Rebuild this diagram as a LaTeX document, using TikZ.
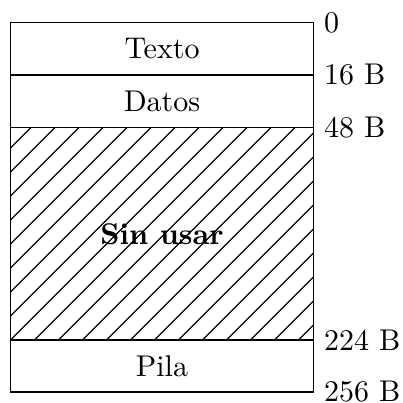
\documentclass[tikz,border=0pt]{standalone}
\begin{document}
\begin{tikzpicture}[x=0.33333pt,y=-0.33333pt,
  seg/.style={draw,line width=0.4pt},
  lbl/.style={anchor=west,inner sep=3.33pt},
  hatch/.style={line width=0.4pt}]
\useasboundingbox (0,0) rectangle (403,403);
% boundaries
\coordinate (tl) at (10.5,22.5);
\coordinate (tr) at (313.5,22.5);
\coordinate (b1l) at (10.5,75);
\coordinate (b1r) at (313.5,75);
\coordinate (b2l) at (10.5,127.5);
\coordinate (b2r) at (313.5,127.5);
\coordinate (b3l) at (10.5,340);
\coordinate (b3r) at (313.5,340);
\coordinate (bl) at (10.5,392);
\coordinate (br) at (313.5,392);
% hatching
\begin{scope}
  \clip (b2l) rectangle (b3r);
  \foreach \k in {-10,...,14} {
    \draw[hatch] (10.5+24*\k-300,340+300) -- (10.5+24*\k+300,340-300);
  }
\end{scope}
% boxes
\draw[seg] (tl) rectangle (b1r);
\draw[seg] (b1l) rectangle (b2r);
\draw[seg] (b2l) rectangle (b3r);
\draw[seg] (b3l) rectangle (br);
% texts
\node (texto) at (162,48.75) {Texto};
\node (datos) at (162,101.25) {Datos};
\node (sin) at (162,233.75) {\textbf{Sin usar}};
\node (pila) at (162,366) {Pila};
\node[lbl] (l0) at (tr) {0};
\node[lbl] (l16) at (b1r) {16 B};
\node[lbl] (l48) at (b2r) {48 B};
\node[lbl] (l224) at (b3r) {224 B};
\node[lbl] (l256) at (br) {256 B};
\end{tikzpicture}
\end{document}
